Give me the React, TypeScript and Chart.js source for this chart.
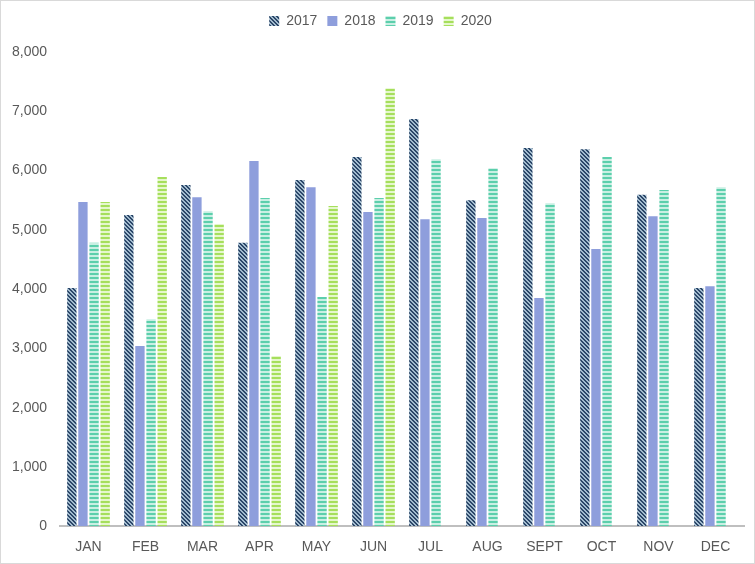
import React, { useEffect, useRef } from "react";
import { Chart, registerables } from "chart.js";

Chart.register(...registerables);

const categories = ["JAN", "FEB", "MAR", "APR", "MAY", "JUN", "JUL", "AUG", "SEPT", "OCT", "NOV", "DEC"];
const series2017 = [4020, 5250, 5755, 4780, 5840, 6230, 6870, 5500, 6380, 6360, 5590, 4020];
const series2018 = [5470, 3040, 5550, 6160, 5720, 5300, 5180, 5200, 3850, 4675, 5230, 4050];
const series2019 = [4780, 3490, 5315, 5535, 3865, 5535, 6190, 6040, 5450, 6230, 5670, 5720];
const series2020 = [5470, 5890, 5100, 2870, 5400, 7390, null, null, null, null, null, null];
const yTicks = [0, 1000, 2000, 3000, 4000, 5000, 6000, 7000, 8000];

function diagPattern(ctx: CanvasRenderingContext2D, fg: string, bg: string) {
  const c = document.createElement("canvas");
  c.width = 4;
  c.height = 4;
  const g = c.getContext("2d")!;
  g.fillStyle = bg;
  g.fillRect(0, 0, 4, 4);
  g.fillStyle = fg;
  for (let i = 0; i < 4; i++) {
    g.fillRect(i, i, 1, 1);
    g.fillRect((i + 1) % 4, i, 1, 1);
  }
  return ctx.createPattern(c, "repeat")!;
}

function hPattern(ctx: CanvasRenderingContext2D, fg: string, bg: string) {
  const c = document.createElement("canvas");
  c.width = 4;
  c.height = 4;
  const g = c.getContext("2d")!;
  g.fillStyle = bg;
  g.fillRect(0, 0, 4, 4);
  g.fillStyle = fg;
  g.fillRect(0, 0, 4, 2);
  return ctx.createPattern(c, "repeat")!;
}

const legendSpacer = {
  id: "legendSpacer",
  beforeInit(chart: any) {
    const orig = chart.legend.fit;
    chart.legend.fit = function () {
      orig.bind(this)();
      this.height += 14;
    };
  },
  afterLayout(chart: any) {
    chart.legend.left += 7;
    chart.legend.right += 7;
  },
};

export default function App() {
  const ref = useRef<HTMLCanvasElement>(null);
  useEffect(() => {
    const canvas = ref.current!;
    const ctx = canvas.getContext("2d")!;
    const p2017 = diagPattern(ctx, "#2b4668", "#a3bccf");
    const p2019 = hPattern(ctx, "#5ccfac", "#c9efe3");
    const p2020 = hPattern(ctx, "#a6df5c", "#e5f7cc");
    const font = { family: "Liberation Sans", size: 14 };
    const chart = new Chart(ctx, {
      type: "bar",
      data: {
        labels: categories,
        datasets: [
          { label: "2017", data: series2017, backgroundColor: p2017 },
          { label: "2018", data: series2018, backgroundColor: "#8e9edc" },
          { label: "2019", data: series2019, backgroundColor: p2019 },
          { label: "2020", data: series2020, backgroundColor: p2020 },
        ],
      },
      plugins: [legendSpacer],
      options: {
        animation: false,
        responsive: false,
        maintainAspectRatio: false,
        layout: { padding: { left: 2, right: 10, top: 3, bottom: -6 } },
        datasets: { bar: { categoryPercentage: 0.78, barPercentage: 0.84 } },
        plugins: {
          legend: {
            position: "top",
            labels: {
              boxWidth: 10,
              boxHeight: 10,
              padding: 10,
              color: "#595959",
              font,
            },
          },
          tooltip: { enabled: false },
        },
        scales: {
          x: {
            grid: { display: false, drawTicks: false },
            border: { color: "#bfbfbf", width: 2 },
            ticks: { color: "#595959", padding: 13, font },
          },
          y: {
            min: 0,
            max: 8000,
            afterBuildTicks: (axis: any) => {
              axis.ticks = yTicks.map((v) => ({ value: v }));
            },
            afterFit: (axis: any) => {
              axis.width = 57;
            },
            grid: { display: false, drawTicks: false },
            border: { display: false },
            ticks: {
              color: "#595959",
              padding: 13,
              font,
              callback: (v: any) => Number(v).toLocaleString("en-US"),
            },
          },
        },
      },
    });
    return () => chart.destroy();
  }, []);
  return (
    <div
      style={{
        position: "fixed",
        left: 0,
        top: 0,
        width: 755,
        height: 564,
        boxSizing: "border-box",
        border: "1px solid #d9d9d9",
        background: "#fff",
      }}
    >
      <canvas ref={ref} width={753} height={562} style={{ display: "block" }} />
    </div>
  );
}
